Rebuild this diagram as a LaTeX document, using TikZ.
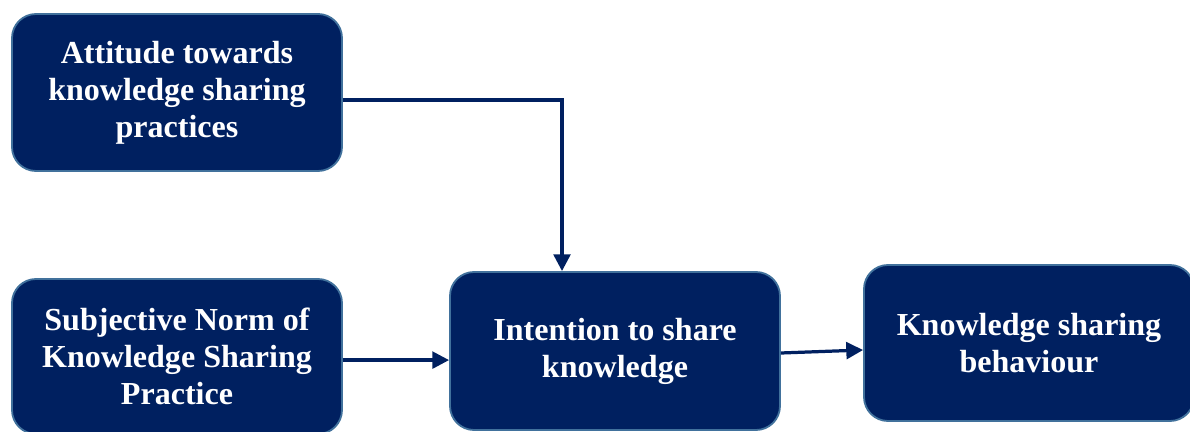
\documentclass[tikz,border=0pt]{standalone}
\usepackage{fontspec}
\setmainfont{Liberation Serif}
\usetikzlibrary{arrows.meta}

\definecolor{navy}{HTML}{002060}
\definecolor{rim}{HTML}{41719C}

\begin{document}
\begin{tikzpicture}[
        box/.style={draw=rim, line width=1.3pt, fill=navy, rounded corners=0.6cm,
            minimum width=8.25cm, align=center, text=white,
            font=\fontsize{22.8}{26.3}\selectfont\bfseries},
        link/.style={draw=navy, line width=2.3pt, -{Triangle[length=0.42cm, width=0.42cm]}}
    ]
        \useasboundingbox (0, 0) rectangle (29.75, 10.8);

        \node[box, minimum height=3.925cm] (attitude) at (4.425, 8.4875) {Attitude towards\\knowledge sharing\\practices};
        \node[box, minimum height=3.875cm] (norm) at (4.425, 1.8875) {Subjective Norm of\\Knowledge Sharing\\Practice};
        \node[box, minimum height=3.95cm] (intention) at (15.375, 2.025) {Intention to share\\knowledge};
        \node[box, minimum height=3.9cm] (behaviour) at (25.725, 2.225) {Knowledge sharing\\behaviour};

        \draw[link] ([yshift=-0.19cm]attitude.east) -| ([xshift=-1.325cm]intention.north);
        \draw[link] ([yshift=-0.09cm]norm.east) -- ([yshift=-0.09cm]norm.east -| intention.west);
        \draw[link] ([yshift=-0.05cm]intention.east) -- ([yshift=-0.175cm]behaviour.west);
    \end{tikzpicture}
\end{document}
